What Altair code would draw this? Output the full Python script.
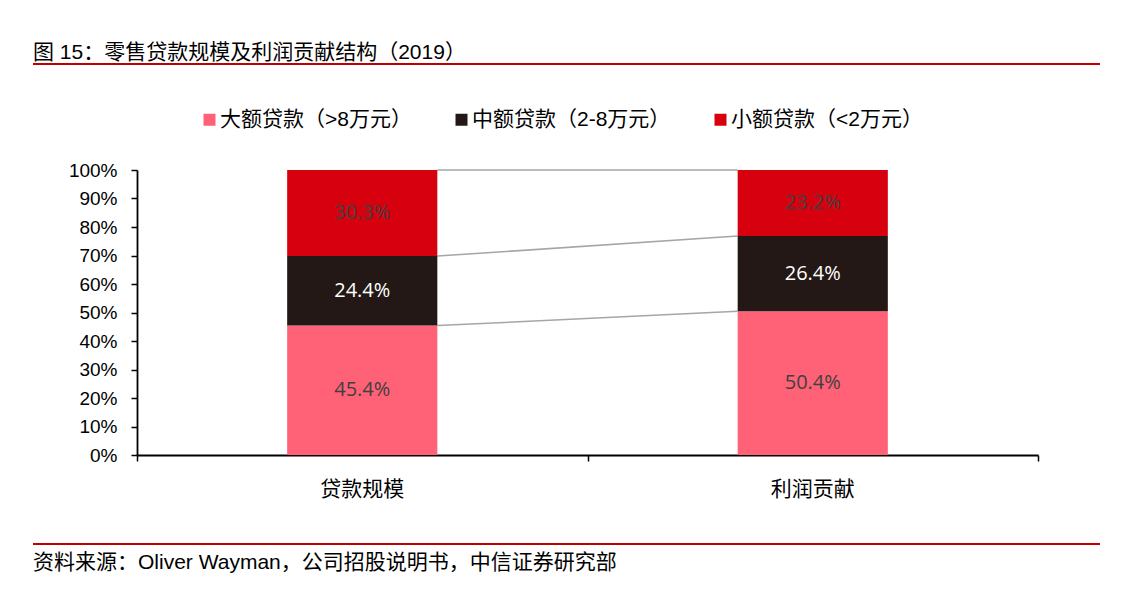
import altair as alt
import pandas as pd

# ---- data ----
categories = ["贷款规模", "利润贡献"]
series = ["大额贷款（>8万元）", "中额贷款（2-8万元）", "小额贷款（<2万元）"]
large_vals = [45.4, 50.4]
mid_vals = [24.4, 26.4]
small_vals = [30.3, 23.2]
colors = ["#FF6176", "#231815", "#D7000F"]
label_colors = ["#404040", "#FFFFFF", "#404040"]
y_ticks = [0, 10, 20, 30, 40, 50, 60, 70, 80, 90, 100]

title_text = "图 15：零售贷款规模及利润贡献结构（2019）"
source_text = "资料来源：Oliver Wayman，公司招股说明书，中信证券研究部"

FONT = "Liberation Sans, Noto Sans CJK SC, sans-serif"
NUM_FONT = "Open Sans, Noto Sans CJK SC, sans-serif"

# ---- build tables ----
rows = []
tops = {}
for ci, cat in enumerate(categories):
    base = 0.0
    for si, (s, vals) in enumerate(zip(series, [large_vals, mid_vals, small_vals])):
        v = vals[ci]
        rows.append({
            "cat": cat, "series": s, "value": v,
            "y0": base, "y1": base + v, "mid": base + v / 2,
            "label": f"{v:.1f}%", "lcolor": label_colors[si], "order": si,
        })
        base += v
        tops[(cat, si)] = base
df = pd.DataFrame(rows)

conn = pd.DataFrame({
    "c1": [categories[0]] * 3,
    "c2": [categories[1]] * 3,
    "v1": [tops[(categories[0], i)] for i in range(3)],
    "v2": [tops[(categories[1], i)] for i in range(3)],
})
cats_df = pd.DataFrame({"cat": categories})

xscale = alt.Scale(domain=categories, paddingInner=0, paddingOuter=0)
yscale = alt.Scale(domain=[0, 100], clamp=True, nice=False)


def x_axis():
    return alt.Axis(labels=False, tickBand="extent", tickSize=6,
                    tickColor="#000000", tickWidth=1.5,
                    domainColor="#000000", domainWidth=1.8, title=None)


def y_axis():
    return alt.Axis(values=y_ticks, labelExpr="datum.value + '%'",
                    labelFont=FONT, labelFontSize=19, labelColor="#000000",
                    labelPadding=14, tickSize=6, tickColor="#000000",
                    tickWidth=1.5, domainColor="#000000", domainWidth=1.8,
                    grid=False, title=None)


bars = alt.Chart(df).mark_bar(width=alt.RelativeBandSize(1 / 3)).encode(
    x=alt.X("cat:N", scale=xscale, sort=categories, axis=x_axis()),
    y=alt.Y("y0:Q", scale=yscale, axis=y_axis()),
    y2="y1:Q",
    color=alt.Color("series:N", scale=alt.Scale(domain=series, range=colors),
                    legend=alt.Legend(orient="none", legendX=62, legendY=-61,
                                      direction="horizontal", title=None,
                                      symbolType="square", symbolSize=144,
                                      symbolStrokeWidth=0, labelFont=FONT,
                                      labelFontSize=21, labelColor="#000000",
                                      labelLimit=400, columnPadding=39,
                                      labelOffset=0)),
)

labels = alt.Chart(df).mark_text(font=NUM_FONT, fontSize=20).encode(
    x=alt.X("cat:N", scale=xscale, sort=categories, axis=x_axis()),
    y=alt.Y("mid:Q", scale=yscale, axis=y_axis()),
    text="label:N",
    color=alt.Color("lcolor:N", scale=None),
)

connectors = alt.Chart(conn).mark_rule(color="#A6A6A6", strokeWidth=1.5).encode(
    x=alt.X("c1:N", scale=xscale, sort=categories, bandPosition=2 / 3, axis=x_axis()),
    x2=alt.X2("c2:N", bandPosition=1 / 3),
    y=alt.Y("v1:Q", scale=yscale, axis=y_axis()),
    y2="v2:Q",
)

x_labels = alt.Chart(cats_df).mark_text(font=FONT, fontSize=21, color="#000000",
                                        baseline="middle").encode(
    x=alt.X("cat:N", scale=xscale, sort=categories, axis=x_axis()),
    y=alt.value(320),
    text="cat:N",
)

one = pd.DataFrame({"title": [title_text], "source": [source_text]})

title = alt.Chart(one).mark_text(align="left", baseline="middle", font=FONT,
                                 fontSize=21, color="#000000").encode(
    x=alt.value(-104), y=alt.value(-117), text="title:N")

source = alt.Chart(one).mark_text(align="left", baseline="middle", font=FONT,
                                  fontSize=21, color="#000000").encode(
    x=alt.value(-104), y=alt.value(393), text="source:N")

top_line = alt.Chart(one).mark_rule(color="#C00000", strokeWidth=2).encode(
    x=alt.value(-104), x2=alt.value(963), y=alt.value(-106))

bottom_line = alt.Chart(one).mark_rule(color="#C00000", strokeWidth=2).encode(
    x=alt.value(-104), x2=alt.value(963), y=alt.value(374))

chart = alt.layer(
    connectors, bars, labels, x_labels, title, source, top_line, bottom_line
).properties(
    width=901, height=285,
    autosize=alt.AutoSizeParams(type="none"),
    padding={"left": 129, "top": 162, "right": 95, "bottom": 128},
).configure_view(strokeWidth=0)

chart.save("out.html", embed_options={"renderer": "svg", "actions": False})
